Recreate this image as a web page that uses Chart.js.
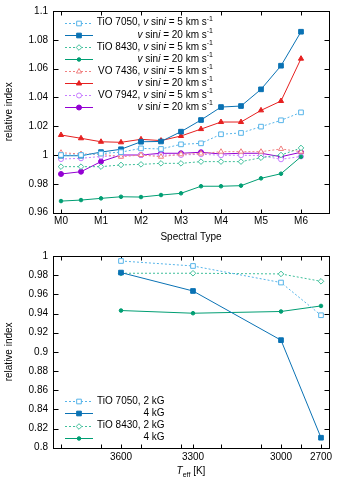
<!DOCTYPE html>
<html><head><meta charset="utf-8">
<script src="https://cdn.jsdelivr.net/npm/chart.js@4/dist/chart.umd.min.js"></script>
<style>
html,body{margin:0;padding:0;background:#fff;}
#wrap{position:relative;width:346px;height:489px;background:#fff;}
#c1{position:absolute;left:0;top:0;}
#c2{position:absolute;left:0;top:245px;}
</style></head><body>
<div id="wrap"><canvas id="c1" width="346" height="245"></canvas><canvas id="c2" width="346" height="244"></canvas></div>
<script>
// ---------- data: top panel ----------
const spectralLabels = ['M0','M1','M2','M3','M4','M5','M6'];
const subtype = [0,0.5,1,1.5,2,2.5,3,3.5,4,4.5,5,5.5,6];
const tio7050_v5  = [1.000,1.000,1.001,1.002,1.0046,1.0042,1.0074,1.0081,1.0144,1.0153,1.0197,1.0241,1.0296];
const tio7050_v20 = [0.9995,0.9995,1.002,1.004,1.0092,1.0094,1.0162,1.0243,1.0333,1.034,1.0456,1.062,1.0856];
const tio8430_v5  = [0.9919,0.9919,0.9919,0.9931,0.9935,0.9942,0.9942,0.9954,0.9954,0.9954,0.9981,1.0,1.0049];
const tio8430_v20 = [0.968,0.9687,0.9699,0.971,0.9708,0.9722,0.9734,0.9783,0.9783,0.9787,0.9838,0.987,0.9988];
const vo7436_v5   = [1.0016,1.0007,1.0005,0.9988,1.0,0.9988,1.0005,1.001,1.0023,1.0023,1.0023,1.0042,1.0023];
const vo7436_v20  = [1.0139,1.0116,1.0092,1.0088,1.0109,1.01,1.0132,1.018,1.0229,1.0229,1.031,1.0375,1.0669];
const vo7942_v5   = [0.9972,0.9977,0.999,0.9995,1.0,1.0,1.0,1.0005,0.9998,0.9998,0.9996,0.997,0.999];
const vo7942_v20  = [0.9868,0.9884,0.9954,1.0,1.0,1.0012,1.0012,1.0019,1.0007,1.0012,1.0012,0.9988,1.0019];
// ---------- data: bottom panel ----------
const teffLabels = ['3600','3300','3000','2700'];
const teffPos = [1.5,3.3,5.5,6.5];   // position of each Teff on the spectral-type axis
const tio7050_2kG = [0.9948,0.9896,0.9723,0.9382];
const tio7050_4kG = [0.9827,0.9635,0.9122,0.8104];
const tio8430_2kG = [0.982,0.982,0.9813,0.9736];
const tio8430_4kG = [0.9431,0.9403,0.9421,0.9479];

const FONT = '"Liberation Sans", Arial, sans-serif';
Chart.defaults.font.family = FONT;
Chart.defaults.font.size = 10;
Chart.defaults.color = '#000';

const C = {
  b5:'#56b4e9', b20:'#0a72b4', g5:'#3fbf9a', g20:'#009e73',
  r5:'#f08080', r20:'#e62020', p5:'#c77dff', p20:'#9400d3'
};

function ds(xs, ys, color, dashed, style, radius, filled){
  return {
    data: xs.map((x,i)=>({x:x, y:ys[i]})),
    borderColor: color, borderWidth: 1, borderDash: dashed ? [2,2] : [],
    pointStyle: style, pointRadius: radius, pointHoverRadius: radius,
    pointBorderColor: color, pointBorderWidth: 1,
    pointBackgroundColor: filled ? color : '#fff',
    tension: 0, fill: false
  };
}

function fmt(v){ return String(Number(v.toFixed(3))); }

// frame + inward ticks
const framePlugin = {
  id: 'frame',
  beforeDatasetsDraw(chart, args, opts){
    const {ctx, chartArea:a, scales:{x,y}} = chart;
    ctx.save();
    ctx.strokeStyle = '#000'; ctx.lineWidth = 1; ctx.setLineDash([]);
    const L = Math.round(a.left)+0.5, R = Math.round(a.right)+0.5, T = Math.round(a.top)+0.5, B = Math.round(a.bottom)+0.5;
    ctx.beginPath();
    y.ticks.forEach(t=>{
      const py = Math.round(y.getPixelForValue(t.value))+0.5;
      ctx.moveTo(L, py); ctx.lineTo(L+5, py);
      ctx.moveTo(R, py); ctx.lineTo(R-5, py);
    });
    (opts.xticks || []).forEach(v=>{
      const px = Math.round(x.getPixelForValue(v))+0.5;
      ctx.moveTo(px, B); ctx.lineTo(px, B-4);
      ctx.moveTo(px, T); ctx.lineTo(px, T+4);
    });
    ctx.stroke();
    ctx.strokeRect(L, T, R-L, B-T);
    ctx.restore();
  }
};

// rich-text helper: parts = [[text, kind]] kind: n normal, i italic, s superscript, u subscript
function partFont(kind, size){
  if (kind==='i') return 'italic '+size+'px '+FONT;
  if (kind==='s' || kind==='u') return Math.round(size*0.7)+'px '+FONT;
  return size+'px '+FONT;
}
function richWidth(ctx, parts, size){
  let w=0; parts.forEach(p=>{ctx.font=partFont(p[1],size); w+=ctx.measureText(p[0]).width;}); return w;
}
function drawRich(ctx, parts, x, y, size){
  ctx.textBaseline='middle'; ctx.textAlign='left'; ctx.fillStyle='#000';
  parts.forEach(p=>{
    ctx.font = partFont(p[1],size);
    let dy = p[1]==='s' ? -size*0.4 : (p[1]==='u' ? size*0.35 : 0);
    ctx.fillText(p[0], x, y+dy);
    x += ctx.measureText(p[0]).width;
  });
}

const legendPlugin = {
  id: 'richLegend',
  afterDraw(chart, args, opts){
    const {ctx, chartArea:a} = chart;
    const items = opts.items || [];
    ctx.save();
    items.forEach((it, k)=>{
      const d = chart.data.datasets[it.ds];
      const y = opts.fromBottom ? a.bottom - opts.y0 - opts.dy*(items.length-1-k) : a.top + opts.y0 + opts.dy*k;
      const yy = Math.round(y)+0.5;
      ctx.strokeStyle = d.borderColor; ctx.lineWidth = 1; ctx.setLineDash(d.borderDash);
      ctx.beginPath(); ctx.moveTo(a.left+12, yy); ctx.lineTo(a.left+40, yy); ctx.stroke();
      ctx.setLineDash([]);
      ctx.fillStyle = d.pointBackgroundColor; ctx.strokeStyle = d.pointBorderColor;
      Chart.helpers.drawPoint(ctx, {pointStyle:d.pointStyle, radius:d.pointRadius, borderWidth:1, rotation:0}, a.left+26, yy);
      const w = richWidth(ctx, it.text, opts.size);
      drawRich(ctx, it.text, opts.right - w, y, opts.size);
    });
    ctx.restore();
  }
};

const teffTitlePlugin = {
  id: 'teffTitle',
  afterDraw(chart, args, opts){
    if (!opts.parts) return;
    const {ctx, chartArea:a} = chart;
    ctx.save();
    const w = richWidth(ctx, opts.parts, 10);
    drawRich(ctx, opts.parts, (a.left+a.right)/2 - w/2, a.bottom + opts.dy, 10);
    ctx.restore();
  }
};

const vs5 = (head)=> [[head,'n'],['v','i'],[' sin','n'],['i','i'],[' = 5 km s','n'],['-1','s']];
const vs20 = ()=> [['v','i'],[' sin','n'],['i','i'],[' = 20 km s','n'],['-1','s']];

// ---------- top chart ----------
new Chart(document.getElementById('c1'), {
  type: 'line',
  data: { datasets: [
    ds(subtype, tio7050_v5,  C.b5,  true,  'rect',     3.3, false),
    ds(subtype, tio7050_v20, C.b20, false, 'rect',     3.3, true),
    ds(subtype, tio8430_v5,  C.g5,  true,  'rectRot',  2.8, false),
    ds(subtype, tio8430_v20, C.g20, false, 'circle',   1.8, true),
    ds(subtype, vo7436_v5,   C.r5,  true,  'triangle', 3,   false),
    ds(subtype, vo7436_v20,  C.r20, false, 'triangle', 3,   true),
    ds(subtype, vo7942_v5,   C.p5,  true,  'circle',   2.5, false),
    ds(subtype, vo7942_v20,  C.p20, false, 'circle',   2.5, true)
  ]},
  options: {
    responsive: false, animation: false, events: [],
    layout: { padding: { top: 11, right: 17, left: 0, bottom: 0 } },
    plugins: {
      legend: { display: false }, tooltip: { enabled: false },
      frame: { xticks: [0,1,2,3,4,5,6] },
      richLegend: {
        size: 10, right: 213, y0: 11.7, dy: 12.1, fromBottom: false,
        items: [
          {ds:0, text: vs5('TiO 7050, ')}, {ds:1, text: vs20()},
          {ds:2, text: vs5('TiO 8430, ')}, {ds:3, text: vs20()},
          {ds:4, text: vs5('VO 7436, ')},  {ds:5, text: vs20()},
          {ds:6, text: vs5('VO 7942, ')},  {ds:7, text: vs20()}
        ]
      }
    },
    scales: {
      x: {
        type: 'linear', min: -0.2, max: 6.7,
        grid: { display: false, drawTicks: false }, border: { display: false },
        afterBuildTicks(s){ s.ticks = spectralLabels.map((l,i)=>({value:i})); },
        afterFit(s){ s.height = 32.4; },
        ticks: { padding: 3, maxRotation: 0, autoSkip: false, callback: (v,i)=> spectralLabels[i] },
        title: { display: true, text: 'Spectral Type', padding: { top: 0, bottom: 2 } }
      },
      y: {
        min: 0.96, max: 1.1,
        grid: { display: false, drawTicks: false }, border: { display: false },
        afterFit(s){ s.width = 53; },
        ticks: { stepSize: 0.02, padding: 5, callback: (v)=> fmt(v) },
        title: { display: true, text: 'relative index', padding: { top: 3, bottom: 0 } }
      }
    }
  },
  plugins: [framePlugin, legendPlugin]
});

// ---------- bottom chart ----------
new Chart(document.getElementById('c2'), {
  type: 'line',
  data: { datasets: [
    ds(teffPos, tio7050_2kG, C.b5,  true,  'rect',    3.3, false),
    ds(teffPos, tio7050_4kG, C.b20, false, 'rect',    3.3, true),
    ds(teffPos, tio8430_2kG, C.g5,  true,  'rectRot', 2.8, false),
    ds(teffPos, tio8430_4kG, C.g20, false, 'circle',  1.8, true)
  ]},
  options: {
    responsive: false, animation: false, events: [],
    layout: { padding: { top: 10.7, right: 17, left: 0, bottom: 0 } },
    plugins: {
      legend: { display: false }, tooltip: { enabled: false },
      frame: { xticks: [0,1,2,3,4,5,6].concat(teffPos) },
      richLegend: {
        size: 10, right: 164.5, y0: 10, dy: 12.2, fromBottom: true,
        items: [
          {ds:0, text: [['TiO 7050, 2 kG','n']]}, {ds:1, text: [['4 kG','n']]},
          {ds:2, text: [['TiO 8430, 2 kG','n']]}, {ds:3, text: [['4 kG','n']]}
        ]
      },
      teffTitle: { parts: [['T','i'],['eff','u'],[' [K]','n']], dy: 24 }
    },
    scales: {
      x: {
        type: 'linear', min: -0.2, max: 6.7,
        grid: { display: false, drawTicks: false }, border: { display: false },
        afterBuildTicks(s){ s.ticks = teffPos.map(v=>({value:v})); },
        afterFit(s){ s.height = 41.3; },
        ticks: { padding: 4, maxRotation: 0, autoSkip: false, callback: (v,i)=> teffLabels[i] },
        title: { display: false }
      },
      y: {
        min: 0.8, max: 1.0,
        grid: { display: false, drawTicks: false }, border: { display: false },
        afterFit(s){ s.width = 53; },
        ticks: { stepSize: 0.02, padding: 5, callback: (v)=> fmt(v) },
        title: { display: true, text: 'relative index', padding: { top: 3, bottom: 0 } }
      }
    }
  },
  plugins: [framePlugin, legendPlugin, teffTitlePlugin]
});
</script>
</body></html>
